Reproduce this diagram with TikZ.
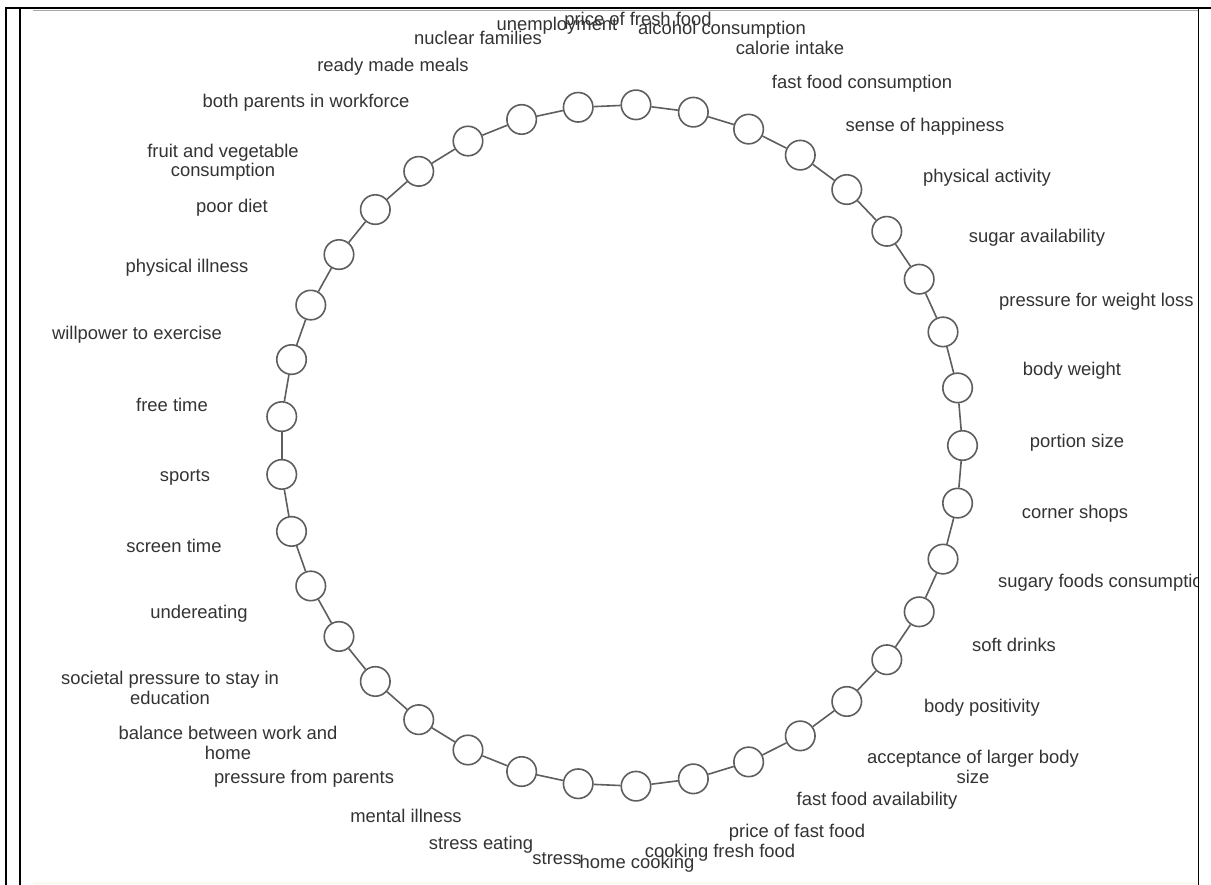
\documentclass[tikz,border=0pt]{standalone}
\usepackage{fontspec}
\newfontfamily\labelfont{Liberation Sans}
\definecolor{ringgray}{HTML}{5E5E5E}
\definecolor{textgray}{HTML}{333333}
\definecolor{palerule}{HTML}{FBF8EE}
\begin{document}
\begin{tikzpicture}[x=1bp,y=-1bp,
  factor/.style={circle,draw=ringgray,fill=white,line width=1.6bp,minimum size=29.5bp,inner sep=0pt},
  link/.style={draw=ringgray,line width=1.6bp},
  tag/.style={font={\labelfont\fontsize{18.4bp}{19.5bp}\selectfont},text=textgray,inner sep=0pt,text height=13.3bp,text depth=3.9bp},
  tagtwo/.style={font={\labelfont\fontsize{18.4bp}{19.5bp}\selectfont},text=textgray,inner sep=0pt,align=center}
]
\useasboundingbox (0,0) rectangle (1211,885);
\fill[white] (0,0) rectangle (1211,885);

% frame
\draw[line width=2.8bp] (5,8) -- (1211,8);
\draw[line width=2bp] (6,7) -- (6,885);
\draw[line width=2bp] (20,7) -- (20,885);
\draw[gray!70,line width=1bp] (33,10.6) -- (1198,10.6);
\draw[line width=1.8bp] (1198.5,9) -- (1198.5,885);
\draw[palerule,line width=2bp] (33,883) -- (1197,883);

% ring of factors
\foreach \k in {0,...,36} {
  \pgfmathsetmacro\ang{\k*360/37}
  \node[factor] (n\k) at ({621.5+341*cos(\ang)},{445.5-341*sin(\ang)}) {};
}
\foreach \k [evaluate=\k as \nx using {int(mod(\k+1,37))}] in {0,...,36}
  \draw[link] (n\k) -- (n\nx);

% factor names
\begin{scope}
\clip (21,11) rectangle (1197.5,885);
\node[tag] (l0) at (1077,443) {portion size};
\node[tag] (l1) at (1072,371) {body weight};
\node[tag,anchor=west] (l2) at (999,302) {pressure for weight loss};
\node[tag] (l3) at (1037,238) {sugar availability};
\node[tag] (l4) at (987,178) {physical activity};
\node[tag] (l5) at (925,127) {sense of happiness};
\node[tag] (l6) at (862,84) {fast food consumption};
\node[tag] (l7) at (790,50) {calorie intake};
\node[tag] (l8) at (722,30) {alcohol consumption};
\node[tag] (l9) at (638,21) {price of fresh food};
\node[tag] (l10) at (557,26) {unemployment};
\node[tag] (l11) at (478,40) {nuclear families};
\node[tag] (l12) at (393,67) {ready made meals};
\node[tag] (l13) at (306,103) {both parents in workforce};
\node[tagtwo] (l14) at (223,162) {fruit and vegetable\\consumption};
\node[tag] (l15) at (232,208) {poor diet};
\node[tag] (l16) at (187,268) {physical illness};
\node[tag] (l17) at (137,335) {willpower to exercise};
\node[tag] (l18) at (172,407) {free time};
\node[tag] (l19) at (185,477) {sports};
\node[tag] (l20) at (174,548) {screen time};
\node[tag] (l21) at (199,614) {undereating};
\node[tagtwo] (l22) at (170,688) {societal pressure to stay in\\education};
\node[tagtwo] (l23) at (228,743) {balance between work and\\home};
\node[tag] (l24) at (304,779) {pressure from parents};
\node[tag] (l25) at (406,818) {mental illness};
\node[tag] (l26) at (481,845) {stress eating};
\node[tag] (l27) at (557,860) {stress};
\node[tag] (l28) at (637,864) {home cooking};
\node[tag] (l29) at (720,853) {cooking fresh food};
\node[tag] (l30) at (797,833) {price of fast food};
\node[tag] (l31) at (877,801) {fast food availability};
\node[tagtwo] (l32) at (973,767) {acceptance of larger body\\size};
\node[tag] (l33) at (982,708) {body positivity};
\node[tag] (l34) at (1014,647) {soft drinks};
\node[tag,anchor=west] (l35) at (998,583) {sugary foods consumption};
\node[tag] (l36) at (1075,514) {corner shops};
\end{scope}
\end{tikzpicture}
\end{document}
